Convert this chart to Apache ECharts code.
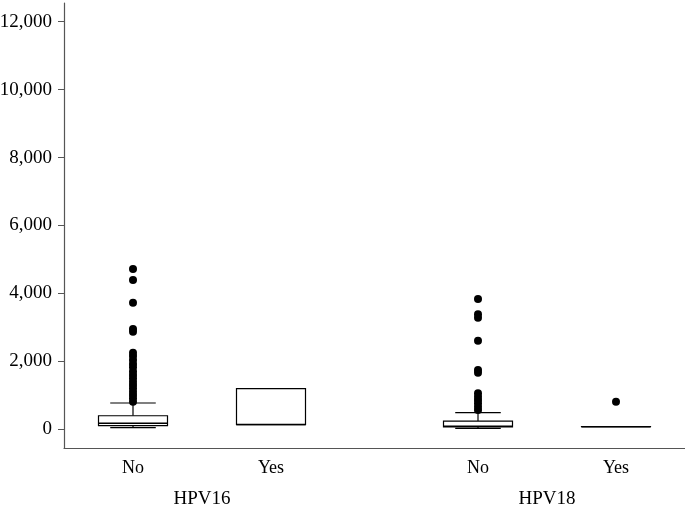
<!DOCTYPE html>
<html>
<head>
<meta charset="utf-8">
<script src="https://cdn.jsdelivr.net/npm/echarts@6/dist/echarts.min.js"></script>
<style>html,body{margin:0;padding:0;background:#fff}#c{width:685px;height:508px}</style>
</head>
<body>
<div id="c"></div>
<script>
// Group positions on the x value axis (HPV16 No, HPV16 Yes, HPV18 No, HPV18 Yes)
var positions = [0, 1, 2.5, 3.5];
var subLabels = ['No', 'Yes', 'No', 'Yes'];
var groupPositions = [0.5, 3.0];
var groupLabels = ['HPV16', 'HPV18'];
// Box statistics: [min, Q1, median, Q3, max]
var boxStats = [
  [47, 106, 180, 400, 774],
  [140, 140, 140, 1200, 1200],
  [29, 68, 90, 244, 490],
  [77, 77, 77, 77, 77]
];
// Outliers per group
var outliersHPV16No = [4719, 4395, 3727, 2953, 2873, 2255, 2158, 2040, 1922, 1825, 1700, 1598, 1501, 1401, 1304, 1207, 1107, 1010, 913, 812];
var outliersHPV16Yes = [];
var outliersHPV18No = [3836, 3385, 3285, 2608, 1746, 1667, 1060, 960, 863, 765, 665, 568];
var outliersHPV18Yes = [812];
var yTicks = [0, 2000, 4000, 6000, 8000, 10000, 12000];

var outlierGroups = [outliersHPV16No, outliersHPV16Yes, outliersHPV18No, outliersHPV18Yes];
var boxData = boxStats.map(function (s, i) { return [positions[i]].concat(s); });
var outlierData = [];
outlierGroups.forEach(function (g, i) { g.forEach(function (v) { outlierData.push([positions[i], v]); }); });

var chart = echarts.init(document.getElementById('c'), null, {renderer: 'canvas'});
var FONT = '"Liberation Serif", "Times New Roman", serif';

function renderBox(params, api) {
  var x = api.value(0), mn = api.value(1), q1 = api.value(2), md = api.value(3), q3 = api.value(4), mx = api.value(5);
  var halfBox = 0.25, halfCap = 0.165;
  var pL = api.coord([x - halfBox, q3]), pR = api.coord([x + halfBox, q1]);
  var c = api.coord([x, md]);
  var cL = api.coord([x - halfCap, mx])[0], cR = api.coord([x + halfCap, mx])[0];
  var yMax = api.coord([x, mx])[1], yMin = api.coord([x, mn])[1];
  var yQ1 = pR[1], yQ3 = pL[1];
  var st = {stroke: '#000', lineWidth: 1.2, fill: null};
  var children = [];
  if (yMax < yQ3 - 0.5) {
    children.push({type: 'line', shape: {x1: c[0], y1: yQ3, x2: c[0], y2: yMax}, style: st});
    children.push({type: 'line', shape: {x1: cL, y1: yMax, x2: cR, y2: yMax}, style: st});
  }
  if (yMin > yQ1 + 0.5) {
    children.push({type: 'line', shape: {x1: c[0], y1: yQ1, x2: c[0], y2: yMin}, style: st});
    children.push({type: 'line', shape: {x1: cL, y1: yMin, x2: cR, y2: yMin}, style: st});
  }
  children.push({type: 'rect', shape: {x: pL[0], y: yQ3, width: pR[0] - pL[0], height: Math.max(yQ1 - yQ3, 0.01)}, style: {stroke: '#000', lineWidth: 1.2, fill: '#fff'}});
  children.push({type: 'line', shape: {x1: pL[0], y1: c[1], x2: pR[0], y2: c[1]}, style: {stroke: '#000', lineWidth: 1.5}});
  return {type: 'group', children: children};
}

chart.setOption({
  animation: false,
  backgroundColor: '#fff',
  grid: {left: 64, right: 0, top: 3, bottom: 60, containLabel: false, outerBoundsMode: 'none'},
  xAxis: [{
    type: 'value', min: -0.5, max: 4.0, position: 'bottom',
    axisLine: {show: true, onZero: false, lineStyle: {color: '#555', width: 1.2}},
    axisTick: {show: false},
    axisLabel: {show: true, customValues: positions, margin: 11, color: '#000', fontFamily: FONT, fontSize: 18,
      formatter: function (v) { var i = positions.indexOf(v); return i >= 0 ? subLabels[i] : ''; }},
    splitLine: {show: false}
  }, {
    type: 'value', min: -0.5, max: 4.0, position: 'bottom',
    axisLine: {show: false}, axisTick: {show: false},
    axisLabel: {show: true, customValues: groupPositions, margin: 42, color: '#000', fontFamily: FONT, fontSize: 19,
      formatter: function (v) { var i = groupPositions.indexOf(v); return i >= 0 ? groupLabels[i] : ''; }},
    splitLine: {show: false}
  }],
  yAxis: {
    type: 'value', min: -550, max: 12550,
    axisLine: {show: true, onZero: false, lineStyle: {color: '#555', width: 1.2}},
    axisTick: {show: true, length: 6, customValues: yTicks, lineStyle: {color: '#555'}},
    axisLabel: {show: true, customValues: yTicks, margin: 12, color: '#000', fontFamily: FONT, fontSize: 19,
      formatter: function (v) { return v.toLocaleString('en-US'); }},
    splitLine: {show: false}
  },
  series: [
    {type: 'custom', renderItem: renderBox, data: boxData, encode: {x: 0, y: [1, 2, 3, 4, 5]}, z: 2},
    {type: 'scatter', data: outlierData, symbol: 'circle', symbolSize: 8, itemStyle: {color: '#000', opacity: 1}, z: 3}
  ]
});
</script>
</body>
</html>
